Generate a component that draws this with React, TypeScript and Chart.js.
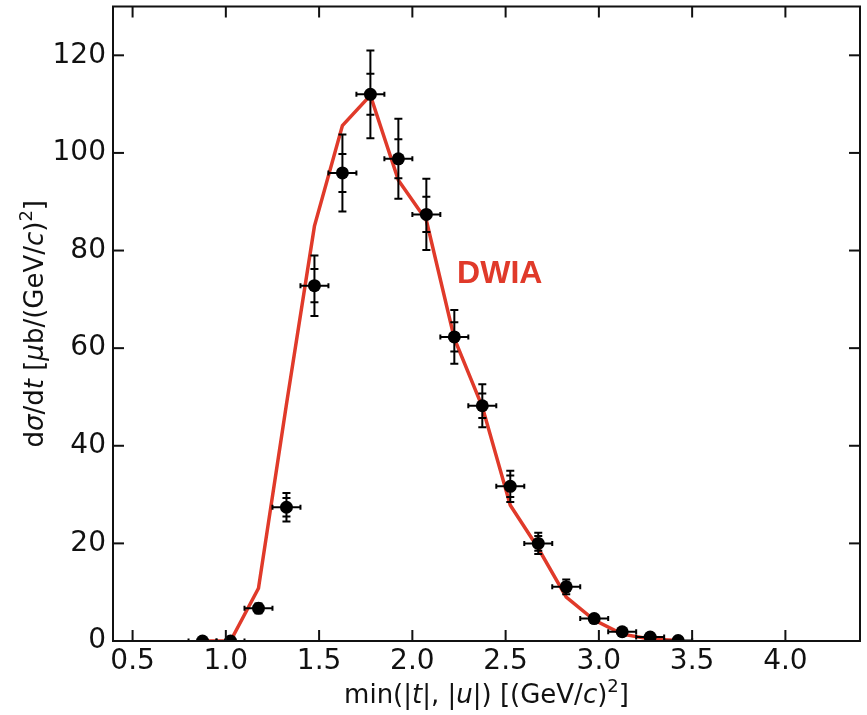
import { useEffect, useRef } from "react";
import { Chart, registerables } from "chart.js";

Chart.register(...registerables);

// ---- data ----
const X_VALUES = [0.875, 1.025, 1.175, 1.325, 1.475, 1.625, 1.775, 1.925, 2.075, 2.225, 2.375, 2.525, 2.675, 2.825, 2.975, 3.125, 3.275, 3.425];
const Y_VALUES = [0.0, 0.0, 6.7, 27.4, 72.8, 95.9, 112.0, 98.8, 87.4, 62.3, 48.2, 31.7, 20.0, 11.1, 4.6, 1.9, 0.8, 0.1];
const X_ERR = [0.075, 0.075, 0.075, 0.075, 0.075, 0.075, 0.075, 0.075, 0.075, 0.075, 0.075, 0.075, 0.075, 0.075, 0.075, 0.075, 0.075, 0.075];
const STAT_ERR = [0.0, 0.0, 0.6, 1.9, 3.4, 3.9, 4.2, 4.0, 3.6, 3.0, 2.5, 2.2, 1.5, 0.9, 0.4, 0.2, 0.1, 0.0];
const TOTAL_ERR = [0.0, 0.0, 1.0, 2.9, 6.2, 7.9, 9.0, 8.2, 7.3, 5.5, 4.4, 3.2, 2.2, 1.5, 0.6, 0.3, 0.2, 0.0];

const DWIA_X = [0.875, 1.025, 1.175, 1.325, 1.475, 1.625, 1.775, 1.925, 2.075, 2.225, 2.375, 2.525, 2.675, 2.825, 2.975, 3.125, 3.275, 3.425];
const DWIA_Y = [0.0, 0.0, 10.8, 48.5, 85.0, 105.6, 111.8, 94.4, 86.2, 62.0, 48.0, 27.8, 19.0, 9.0, 4.3, 1.4, 0.4, 0.1];

const X_TICKS = [0.5, 1.0, 1.5, 2.0, 2.5, 3.0, 3.5, 4.0];
const Y_TICKS = [0, 20, 40, 60, 80, 100, 120];
const X_MIN = 0.395;
const X_MAX = 4.4;
const Y_MIN = 0;
const Y_MAX = 130;

const DWIA_LABEL = "DWIA";
const DWIA_LABEL_AT = { x: 2.24, y: 73.3 };

// ---- style ----
const RED = "#e03a2a";
const INK = "#111111";
const FAMILY = "'DejaVu Sans', sans-serif";
const TITLE_SIZE = 26;
const TICK_SIZE = 28;

type Seg = { t: string; i?: boolean; sup?: boolean };

const X_TITLE: Seg[] = [
  { t: "min(|" }, { t: "t", i: true }, { t: "|, |" }, { t: "u", i: true }, { t: "|) [(GeV/" }, { t: "c", i: true }, { t: ")" }, { t: "2", sup: true }, { t: "]" },
];
const Y_TITLE: Seg[] = [
  { t: "d" }, { t: "σ", i: true }, { t: "/d" }, { t: "t", i: true }, { t: " [" }, { t: "μ", i: true }, { t: "b/(GeV/" }, { t: "c", i: true }, { t: ")" }, { t: "2", sup: true }, { t: "]" },
];

function segFont(s: Seg, size: number) {
  return `${s.i ? "oblique " : ""}${s.sup ? Math.round(size * 0.7) : size}px ${FAMILY}`;
}

function drawRich(ctx: CanvasRenderingContext2D, segs: Seg[], size: number) {
  let w = 0;
  for (const s of segs) {
    ctx.font = segFont(s, size);
    w += ctx.measureText(s.t).width;
  }
  let x = -w / 2;
  ctx.textAlign = "left";
  ctx.textBaseline = "alphabetic";
  for (const s of segs) {
    ctx.font = segFont(s, size);
    ctx.fillText(s.t, x, s.sup ? -size * 0.42 : 0);
    x += ctx.measureText(s.t).width;
  }
}

function line(ctx: CanvasRenderingContext2D, x1: number, y1: number, x2: number, y2: number) {
  ctx.beginPath();
  ctx.moveTo(x1, y1);
  ctx.lineTo(x2, y2);
  ctx.stroke();
}

const decorPlugin = {
  id: "decor",
  beforeDatasetDraw(chart: any, args: any) {
    if (args.index !== 0) return;
    const { ctx, chartArea: a } = chart;
    const xs = chart.scales.x;
    const ys = chart.scales.y;
    ctx.save();
    ctx.beginPath();
    ctx.rect(a.left, a.top, a.right - a.left, a.bottom - a.top);
    ctx.clip();
    ctx.strokeStyle = "#000";
    ctx.lineWidth = 2;
    for (let i = 0; i < X_VALUES.length; i++) {
      const px = xs.getPixelForValue(X_VALUES[i]);
      const py = ys.getPixelForValue(Y_VALUES[i]);
      const xl = xs.getPixelForValue(X_VALUES[i] - X_ERR[i]);
      const xr = xs.getPixelForValue(X_VALUES[i] + X_ERR[i]);
      line(ctx, xl, py, xr, py);
      line(ctx, xl, py - 2.5, xl, py + 2.5);
      line(ctx, xr, py - 2.5, xr, py + 2.5);
      if (TOTAL_ERR[i] > 0) {
        const yt = ys.getPixelForValue(Y_VALUES[i] + TOTAL_ERR[i]);
        const yb = ys.getPixelForValue(Y_VALUES[i] - TOTAL_ERR[i]);
        line(ctx, px, yt, px, yb);
        line(ctx, px - 4, yt, px + 4, yt);
        line(ctx, px - 4, yb, px + 4, yb);
      }
      if (STAT_ERR[i] > 0) {
        const st = ys.getPixelForValue(Y_VALUES[i] + STAT_ERR[i]);
        const sb = ys.getPixelForValue(Y_VALUES[i] - STAT_ERR[i]);
        line(ctx, px - 4, st, px + 4, st);
        line(ctx, px - 4, sb, px + 4, sb);
      }
    }
    ctx.restore();
  },
  afterDraw(chart: any) {
    const { ctx, chartArea: a } = chart;
    const xs = chart.scales.x;
    const ys = chart.scales.y;
    ctx.save();
    // frame
    ctx.strokeStyle = INK;
    ctx.lineWidth = 2;
    ctx.strokeRect(a.left, a.top, a.right - a.left, a.bottom - a.top);
    const TL = 11;
    for (const v of X_TICKS) {
      const px = xs.getPixelForValue(v);
      line(ctx, px, a.bottom, px, a.bottom - TL);
      line(ctx, px, a.top, px, a.top + TL);
    }
    for (const v of Y_TICKS) {
      const py = ys.getPixelForValue(v);
      line(ctx, a.left, py, a.left + TL, py);
      line(ctx, a.right, py, a.right - TL, py);
    }
    // titles
    ctx.fillStyle = INK;
    ctx.save();
    ctx.translate((a.left + a.right) / 2, 703);
    drawRich(ctx, X_TITLE, TITLE_SIZE);
    ctx.restore();
    ctx.save();
    ctx.translate(43, (a.top + a.bottom) / 2);
    ctx.rotate(-Math.PI / 2);
    drawRich(ctx, Y_TITLE, TITLE_SIZE);
    ctx.restore();
    // DWIA label
    ctx.fillStyle = RED;
    ctx.font = `bold 32px 'Liberation Sans', Arial, sans-serif`;
    ctx.textAlign = "left";
    ctx.textBaseline = "alphabetic";
    ctx.fillText(DWIA_LABEL, xs.getPixelForValue(DWIA_LABEL_AT.x), ys.getPixelForValue(DWIA_LABEL_AT.y));
    ctx.restore();
  },
};

export default function App() {
  const ref = useRef<HTMLCanvasElement>(null);
  useEffect(() => {
    document.body.style.margin = "0";
    const canvas = ref.current!;
    const chart = new Chart(canvas, {
      type: "scatter",
      data: {
        datasets: [
          {
            label: "data",
            data: X_VALUES.map((x, i) => ({ x, y: Y_VALUES[i] })),
            pointRadius: 6.5,
            pointBackgroundColor: "#000",
            pointBorderWidth: 0,
            showLine: false,
            clip: 0,
          } as any,
          {
            label: "DWIA",
            type: "line",
            data: DWIA_X.map((x, i) => ({ x, y: DWIA_Y[i] })),
            borderColor: RED,
            borderWidth: 3.5,
            pointRadius: 0,
            fill: false,
            tension: 0,
            clip: 0,
          } as any,
        ],
      },
      options: {
        animation: false,
        responsive: false,
        devicePixelRatio: 1,
        events: [],
        layout: { padding: { top: 6, right: 7, left: 0, bottom: 0 } },
        plugins: { legend: { display: false }, tooltip: { enabled: false } },
        scales: {
          x: {
            type: "linear",
            min: X_MIN,
            max: X_MAX,
            grid: { display: false, drawTicks: false },
            border: { display: false },
            ticks: {
              color: INK,
              font: { family: FAMILY, size: TICK_SIZE },
              padding: 4,
              maxRotation: 0,
              autoSkip: false,
              callback: (v: any) => Number(v).toFixed(1),
            },
            afterBuildTicks: (s: any) => {
              s.ticks = X_TICKS.map((v) => ({ value: v }));
            },
            afterFit: (s: any) => {
              s.height = 74;
              s.paddingLeft = 0;
              s.paddingRight = 0;
            },
          },
          y: {
            type: "linear",
            min: Y_MIN,
            max: Y_MAX,
            grid: { display: false, drawTicks: false },
            border: { display: false },
            ticks: {
              color: INK,
              font: { family: FAMILY, size: TICK_SIZE },
              padding: 7,
              autoSkip: false,
              callback: (v: any) => String(v),
            },
            afterBuildTicks: (s: any) => {
              s.ticks = Y_TICKS.map((v) => ({ value: v }));
            },
            afterFit: (s: any) => {
              s.width = 113;
              s.paddingTop = 0;
              s.paddingBottom = 0;
            },
          },
        },
      },
      plugins: [decorPlugin],
    });
    return () => chart.destroy();
  }, []);
  return (
    <div style={{ width: 867, height: 715 }}>
      <canvas ref={ref} width={867} height={715} style={{ display: "block" }} />
    </div>
  );
}
